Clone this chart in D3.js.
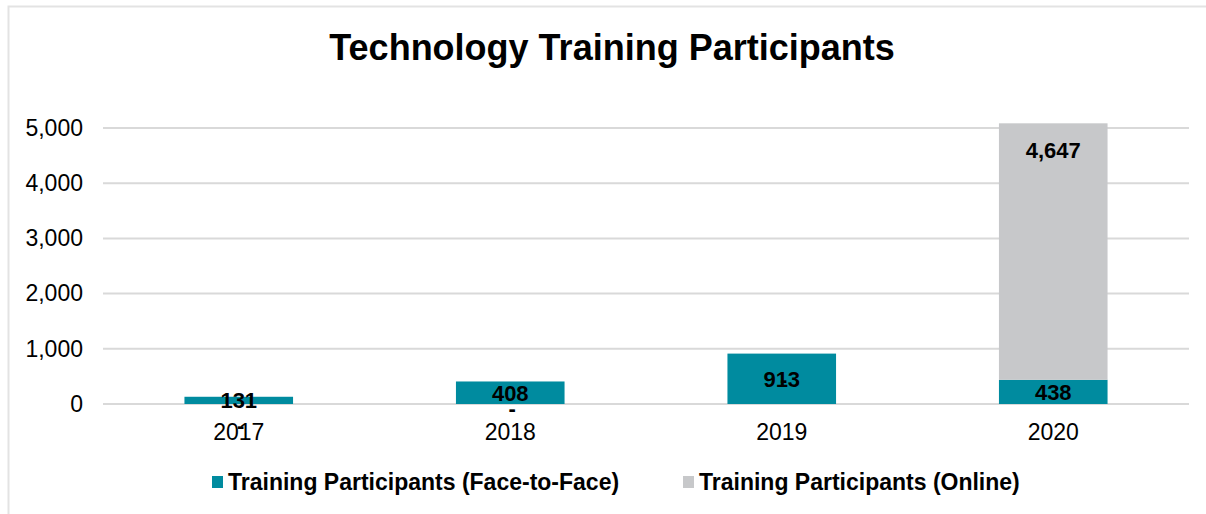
<!DOCTYPE html>
<html>
<head>
<meta charset="utf-8">
<script src="https://cdn.jsdelivr.net/npm/d3@7"></script>
<style>
  body { margin: 0; background: #fff; }
  text { font-family: "Liberation Sans", Arial, sans-serif; }
</style>
</head>
<body>
<div id="chart"></div>
<script>
var years = ["2017", "2018", "2019", "2020"];
var faceToFace = [131, 408, 913, 438];
var online = [0, 0, 0, 4647];
var seriesNames = ["Training Participants (Face-to-Face)", "Training Participants (Online)"];
var yTicks = [0, 1000, 2000, 3000, 4000, 5000];

var width = 1206, height = 514;
var colors = ["#008B9F", "#C7C8CA"];

var svg = d3.select("#chart").append("svg")
  .attr("width", width)
  .attr("height", height);

// chart frame (only top and left edges show in the picture)
svg.append("path")
  .attr("d", "M8.5,514 V6.5 H1206")
  .style("fill", "none")
  .style("stroke", "#e3e3e3")
  .style("stroke-width", 2);

svg.append("text")
  .attr("x", 612)
  .attr("y", 60)
  .attr("text-anchor", "middle")
  .style("font-size", "36px")
  .style("font-weight", "bold")
  .style("fill", "#000")
  .text("Technology Training Participants");

var x = d3.scaleBand()
  .domain(years)
  .range([103, 1189])
  .paddingInner(0.6)
  .paddingOuter(0.3);

var y = d3.scaleLinear()
  .domain([0, 5000])
  .range([404, 128]);

// gridlines
svg.selectAll("line.grid")
  .data(yTicks).enter()
  .append("line")
  .attr("class", "grid")
  .attr("x1", 103)
  .attr("x2", 1189)
  .attr("y1", function(d) { return y(d); })
  .attr("y2", function(d) { return y(d); })
  .style("stroke", "#d9d9d9")
  .style("stroke-width", 2);

// y axis labels
var yAxis = d3.axisLeft(y).tickValues(yTicks).tickSize(0).tickPadding(20).tickFormat(d3.format(","));
svg.append("g")
  .attr("transform", "translate(103,0)")
  .call(yAxis)
  .call(function(g) { g.select(".domain").remove(); })
  .selectAll("text")
    .style("font-size", "23px")
    .style("font-family", "'Liberation Sans', Arial, sans-serif")
    .style("fill", "#000");

// x axis labels
var xAxis = d3.axisBottom(x).tickSize(0).tickPadding(20);
svg.append("g")
  .attr("transform", "translate(0,404)")
  .call(xAxis)
  .call(function(g) { g.select(".domain").remove(); })
  .selectAll("text")
    .style("font-size", "23px")
    .style("font-family", "'Liberation Sans', Arial, sans-serif")
    .style("fill", "#000");

var rows = years.map(function(yr, i) {
  return { year: yr, face: faceToFace[i], online: online[i] };
});

// face-to-face bars
svg.selectAll("rect.face")
  .data(rows).enter()
  .append("rect")
  .attr("class", "face")
  .attr("x", function(d) { return x(d.year); })
  .attr("width", x.bandwidth())
  .attr("y", function(d) { return y(d.face); })
  .attr("height", function(d) { return y(0) - y(d.face); })
  .style("fill", colors[0]);

// online bars stacked on top
svg.selectAll("rect.online")
  .data(rows).enter()
  .append("rect")
  .attr("class", "online")
  .attr("x", function(d) { return x(d.year); })
  .attr("width", x.bandwidth())
  .attr("y", function(d) { return y(d.face + d.online); })
  .attr("height", function(d) { return y(d.face) - y(d.face + d.online); })
  .style("fill", colors[1]);

var labelStyle = function(sel) {
  sel.attr("text-anchor", "middle")
    .style("font-size", "22px")
    .style("font-weight", "bold")
    .style("fill", "#000");
};

// face-to-face labels
svg.selectAll("text.faceLabel")
  .data(rows).enter()
  .append("text")
  .attr("class", "faceLabel")
  .attr("x", function(d) { return x(d.year) + x.bandwidth() / 2; })
  .attr("y", function(d) { return (y(0) + y(d.face)) / 2 + 8; })
  .call(labelStyle)
  .text(function(d) { return d3.format(",")(d.face); });

// online labels: zero values shown as "-", excel pushes them around short bars
var zeroShift = { "2017": 25, "2018": 15, "2019": 0 };
svg.selectAll("text.onlineLabel")
  .data(rows).enter()
  .append("text")
  .attr("class", "onlineLabel")
  .attr("x", function(d) { return x(d.year) + x.bandwidth() / 2 + (d.online === 0 ? 2 : 0); })
  .attr("y", function(d) {
    if (d.online === 0) return (y(0) + y(d.face)) / 2 + 8 + zeroShift[d.year];
    return y(d.face + d.online) + 35;
  })
  .call(labelStyle)
  .text(function(d) { return d.online === 0 ? "-" : d3.format(",")(d.online); });

// legend
var legendX = [212, 683];
var legend = svg.selectAll("g.legend")
  .data(seriesNames).enter()
  .append("g")
  .attr("class", "legend")
  .attr("transform", function(d, i) { return "translate(" + legendX[i] + ",482)"; });

legend.append("rect")
  .attr("x", 0)
  .attr("y", -6)
  .attr("width", 11)
  .attr("height", 12)
  .style("fill", function(d, i) { return colors[i]; });

legend.append("text")
  .attr("x", 16)
  .attr("y", 8)
  .style("font-size", "23px")
  .style("font-weight", "bold")
  .style("fill", "#000")
  .text(function(d) { return d; });
</script>
</body>
</html>
